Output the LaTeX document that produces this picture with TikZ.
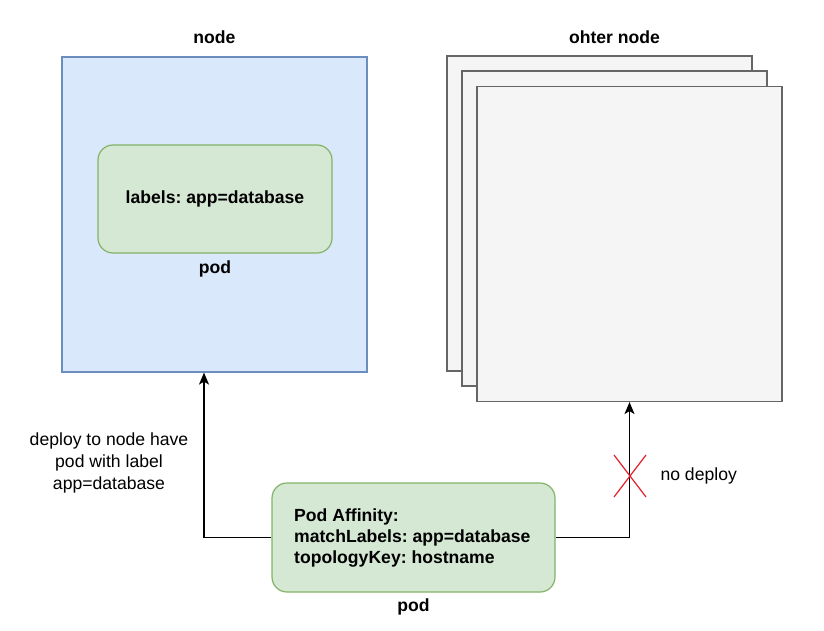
\documentclass[tikz,border=0pt]{standalone}
\usepackage{fontspec}
\setmainfont{Liberation Sans}
\usetikzlibrary{arrows.meta}
\definecolor{hostfill}{HTML}{DAE8FC}
\definecolor{hostline}{HTML}{6C8EBF}
\definecolor{podfill}{HTML}{D5E8D4}
\definecolor{podline}{HTML}{82B366}
\definecolor{otherfill}{HTML}{F5F5F5}
\definecolor{otherline}{HTML}{666666}
\definecolor{crossred}{HTML}{E0202A}
\frenchspacing

\begin{document}
\begin{tikzpicture}[x=1pt, y=-1pt,
		font=\fontsize{17.6}{20.6}\selectfont,
		hostbox/.style={rectangle, draw=hostline, fill=hostfill, line width=1.2pt,
			minimum width=305pt, minimum height=315pt, inner sep=0pt},
		otherbox/.style={rectangle, draw=otherline, fill=otherfill, line width=1.2pt,
			minimum width=305pt, minimum height=315pt, inner sep=0pt},
		podbox/.style={rectangle, rounded corners=15pt, draw=podline, fill=podfill,
			line width=1.2pt, inner sep=0pt},
		title/.style={font=\fontsize{17.6}{20.6}\selectfont\bfseries},
		arrow/.style={draw, line width=1.3pt, -{Stealth[length=12pt, width=10pt, inset=3pt]}}]
		\useasboundingbox (0,0) rectangle (824,631);
		% node with the database pod
		\node[hostbox] (host) at (214.5,214.5) {};
		\node[title] (hostlabel) at (214.5,37) {node};
		\node[podbox, minimum width=234pt, minimum height=108pt, font=\fontsize{17.6}{20.6}\selectfont\bfseries] (dbpod) at (215,199) {labels: app=database};
		\node[title] (dbpodlabel) at (215,269) {pod};
		% stack of other nodes
		\node[otherbox] (back) at (599.5,213.5) {};
		\node[otherbox] (middle) at (614.5,228.5) {};
		\node[otherbox] (front) at (629.5,244) {};
		\node[title] (otherlabel) at (614.5,37) {ohter node};
		% pod with affinity
		\node[podbox, minimum width=283pt, minimum height=109pt] (affpod) at (413.5,537.5) {};
		\node[anchor=west, align=left, inner sep=0pt, font=\fontsize{17.6}{20.6}\selectfont\bfseries] (afftext) at (294,538) {Pod Affinity:\\matchLabels: app=database\\topologyKey: hostname};
		\node[title] (affpodlabel) at (413.5,607) {pod};
		% connectors
		\draw[arrow] (affpod.west) -| ([xshift=-10.5pt]host.south);
		\draw[arrow] (affpod.east) -| (front.south);
		\node[align=center, font=\fontsize{17.6}{22}\selectfont] (deploylabel) at (109,463) {deploy to node have\\pod with label\\app=database};
		\coordinate (crossc) at (630,476);
		\draw[crossred, line width=1.2pt] ([shift={(-16,-21)}]crossc) -- ([shift={(16,21)}]crossc)
			([shift={(16,-21)}]crossc) -- ([shift={(-16,21)}]crossc);
		\node[anchor=west] (nodeploy) at (657,476) {no deploy};
	\end{tikzpicture}
\end{document}
